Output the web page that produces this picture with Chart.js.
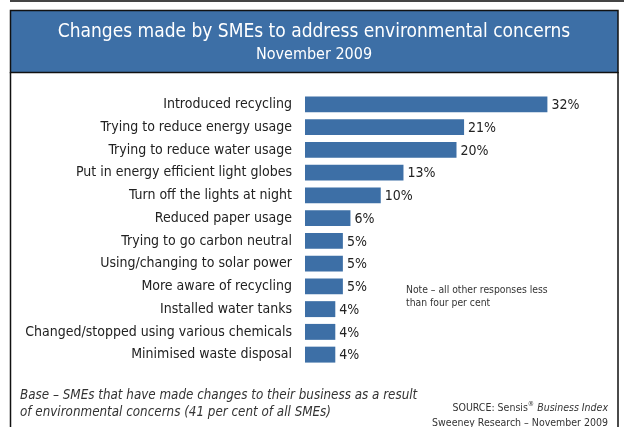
<!DOCTYPE html>
<html>
<head>
<meta charset="utf-8">
<script src="https://cdn.jsdelivr.net/npm/chart.js@4"></script>
<style>
  html, body { margin: 0; padding: 0; background: #fff; }
  #wrap { position: relative; width: 624px; height: 427px; }
</style>
</head>
<body>
<div id="wrap"><canvas id="myChart" width="624" height="427"></canvas></div>
<script>
// survey answers, top to bottom
var categoryNames = [
    "Introduced recycling",
    "Trying to reduce energy usage",
    "Trying to reduce water usage",
    "Put in energy efficient light globes",
    "Turn off the lights at night",
    "Reduced paper usage",
    "Trying to go carbon neutral",
    "Using/changing to solar power",
    "More aware of recycling",
    "Installed water tanks",
    "Changed/stopped using various chemicals",
    "Minimised waste disposal"
];
// per cent of SMEs giving each answer
var categoryVotes = [32, 21, 20, 13, 10, 6, 5, 5, 5, 4, 4, 4];

var titleText = "Changes made by SMEs to address environmental concerns";
var subtitleText = "November 2009";
var noteLines = ["Note \u2013 all other responses less", "than four per cent"];
var baseLines = ["Base \u2013 SMEs that have made changes to their business as a result",
                 "of environmental concerns (41 per cent of all SMEs)"];

var barColor = "#3d6fa6";
var fontName = "'Liberation Sans Narrow', 'DejaVu Sans Condensed', sans-serif";

// frame, blue header and the footnotes around the chart
var framePlugin = {
    id: 'frame',
    beforeDraw: function(chart) {
        var c = chart.ctx;
        c.save();
        c.fillStyle = "#fff";
        c.fillRect(0, 0, chart.width, chart.height);

        // thin rule along the top
        c.fillStyle = "#444";
        c.fillRect(10, 0, chart.width - 10, 2);

        // header box
        c.fillStyle = barColor;
        c.fillRect(10, 10, 608, 62);
        c.strokeStyle = "#111";
        c.lineWidth = 1.5;
        c.strokeRect(10.5, 10.5, 607.5, 62);

        // sides of the frame run off the bottom
        c.beginPath();
        c.moveTo(10.5, 72);
        c.lineTo(10.5, chart.height);
        c.moveTo(618, 72);
        c.lineTo(618, chart.height);
        c.stroke();

        c.fillStyle = "#fff";
        c.textAlign = "center";
        c.textBaseline = "middle";
        c.font = "19px " + fontName;
        c.fillText(titleText, 314, 32);
        c.font = "16px " + fontName;
        c.fillText(subtitleText, 314, 55);

        // note beside the short bars
        c.fillStyle = "#333";
        c.textAlign = "left";
        c.font = "10.3px " + fontName;
        c.fillText(noteLines[0], 406, 290);
        c.fillText(noteLines[1], 406, 303);

        // base description
        c.font = "italic 13.3px " + fontName;
        c.fillText(baseLines[0], 20, 396);
        c.fillText(baseLines[1], 20, 413);

        // source lines, right aligned, with a raised registered mark
        var right = 608;
        c.textAlign = "right";
        c.font = "italic 10.5px " + fontName;
        c.fillText("Business Index", right, 408);
        var x = right - c.measureText(" Business Index").width;
        c.font = "7px " + fontName;
        c.fillText("\u00AE", x, 404);
        x -= c.measureText("\u00AE").width;
        c.font = "10.5px " + fontName;
        c.fillText("SOURCE: Sensis", x, 408);
        c.fillText("Sweeney Research \u2013 November 2009", right, 423);
        c.restore();
    }
};

// percentage printed at the end of each bar
var valueLabels = {
    id: 'valueLabels',
    afterDatasetsDraw: function(chart) {
        var c = chart.ctx;
        var meta = chart.getDatasetMeta(0);
        c.save();
        c.fillStyle = "#222";
        c.font = "14px " + fontName;
        c.textAlign = "left";
        c.textBaseline = "middle";
        meta.data.forEach(function(bar, index) {
            c.fillText(categoryVotes[index] + "%", bar.x + 4, bar.y + 1);
        });
        c.restore();
    }
};

var ctx = document.getElementById('myChart');
var myBarChart = new Chart(ctx, {
    type: 'bar',
    data: {
        labels: categoryNames,
        datasets: [{
            data: categoryVotes,
            backgroundColor: barColor,
            barPercentage: 0.7,
            categoryPercentage: 1
        }]
    },
    options: {
        indexAxis: 'y',
        responsive: false,
        animation: false,
        layout: { padding: { left: 0, right: 16, top: 93, bottom: 61 } },
        plugins: {
            legend: { display: false },
            tooltip: { enabled: false }
        },
        scales: {
            x: {
                display: false,
                min: 0,
                max: 40
            },
            y: {
                grid: { display: false, drawTicks: false },
                border: { display: false },
                ticks: {
                    color: "#222",
                    padding: 13,
                    font: { family: fontName, size: 14 }
                },
                afterFit: function(scale) {
                    scale.width = 305;
                }
            }
        }
    },
    plugins: [framePlugin, valueLabels]
});
</script>
</body>
</html>
